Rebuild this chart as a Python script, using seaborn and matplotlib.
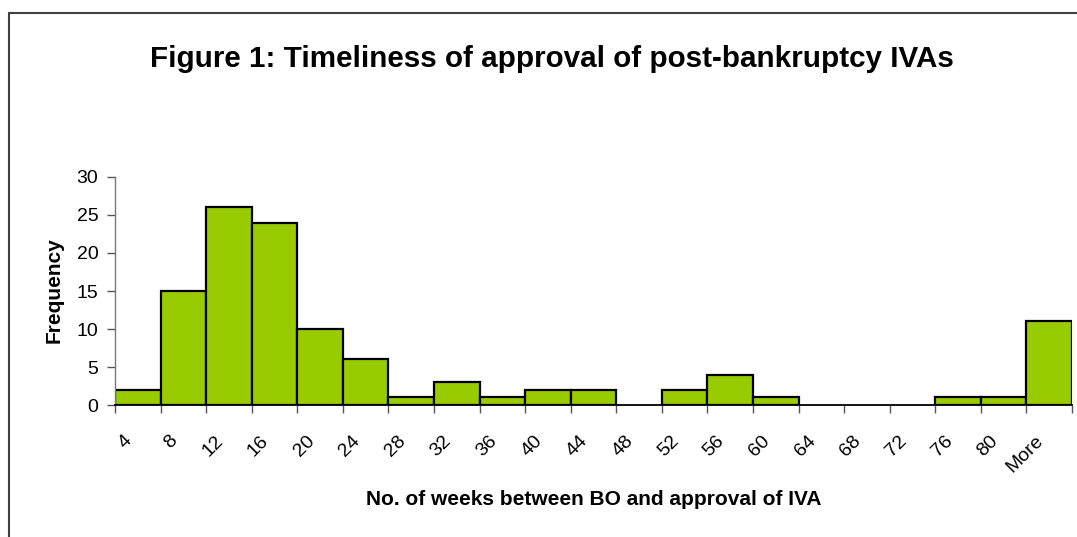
import numpy as np
import seaborn as sns
import matplotlib.pyplot as plt
from matplotlib.lines import Line2D
from matplotlib.transforms import ScaledTranslation

# histogram bins (upper edge, weeks) and counts
bins = ['4', '8', '12', '16', '20', '24', '28', '32', '36', '40', '44', '48',
        '52', '56', '60', '64', '68', '72', '76', '80', 'More']
counts = [2, 15, 26, 24, 10, 6, 1, 3, 1, 2, 2, 0,
          2, 4, 1, 0, 0, 0, 1, 1, 11]
yticks = [0, 5, 10, 15, 20, 25, 30]

sns.set_style('white')
plt.rcParams['font.family'] = ['Liberation Sans', 'DejaVu Sans']
plt.rcParams['text.color'] = 'black'
plt.rcParams['xtick.labelcolor'] = 'black'
plt.rcParams['ytick.labelcolor'] = 'black'

fig = plt.figure(figsize=(10.77, 5.37), dpi=100)
ax = fig.add_axes([0.1068, 0.2458, 0.8886, 0.4246])

sns.barplot(x=bins, y=counts, color='#99cc00', saturation=1, width=1,
            edgecolor='black', linewidth=1.6, ax=ax)
# empty bins are not drawn in the original
for p, v in zip(ax.patches, counts):
    if v == 0:
        p.set_linewidth(0)

ax.set_xlim(-0.5, len(bins) - 0.5)
ax.set_ylim(0, 30)
ax.set_yticks(yticks)
ax.tick_params(axis='y', left=True, length=6, width=1, color='#555555',
               labelsize=14, pad=6, labelcolor='black')

# ticks on bin boundaries, labels under the bars
ax.set_xticks(np.arange(-0.5, len(bins), 1))
ax.set_xticklabels([])
ax.tick_params(axis='x', which='major', bottom=True, length=6, width=1, color='#555555')
ax.set_xticks(np.arange(len(bins)), bins, minor=True)
ax.tick_params(axis='x', which='minor', length=0, labelsize=14, pad=24, labelcolor='black')
off = ScaledTranslation(-6 / 72, 0, fig.dpi_scale_trans)
for lab in ax.get_xticklabels(minor=True):
    lab.set_rotation(45)
    lab.set_ha('right')
    lab.set_va('center')
    lab.set_rotation_mode('anchor')
    lab.set_transform(lab.get_transform() + off)

for s in ['top', 'right']:
    ax.spines[s].set_visible(False)
ax.spines['left'].set_color('#777777')
ax.spines['left'].set_linewidth(1)
ax.spines['bottom'].set_color('black')
ax.spines['bottom'].set_linewidth(1.3)
ax.set_xlabel('')
ax.set_ylabel('')

fig.text(0.5125, 0.8752, 'Figure 1: Timeliness of approval of post-bankruptcy IVAs',
         ha='center', va='baseline', fontsize=21.3, fontweight='bold')
fig.text(0.551, 0.069, 'No. of weeks between BO and approval of IVA',
         ha='center', va='center', fontsize=15, fontweight='bold')
fig.text(0.050, 0.460, 'Frequency', rotation=90,
         ha='center', va='center', fontsize=15, fontweight='bold')

# chart area border (left and top edges visible)
fig.add_artist(Line2D([0.0083, 0.0083], [0, 0.9758], color='#404040', lw=1.5))
fig.add_artist(Line2D([0.0083, 1.0], [0.9758, 0.9758], color='#404040', lw=1.5))

fig.savefig('out.png', dpi=100)
